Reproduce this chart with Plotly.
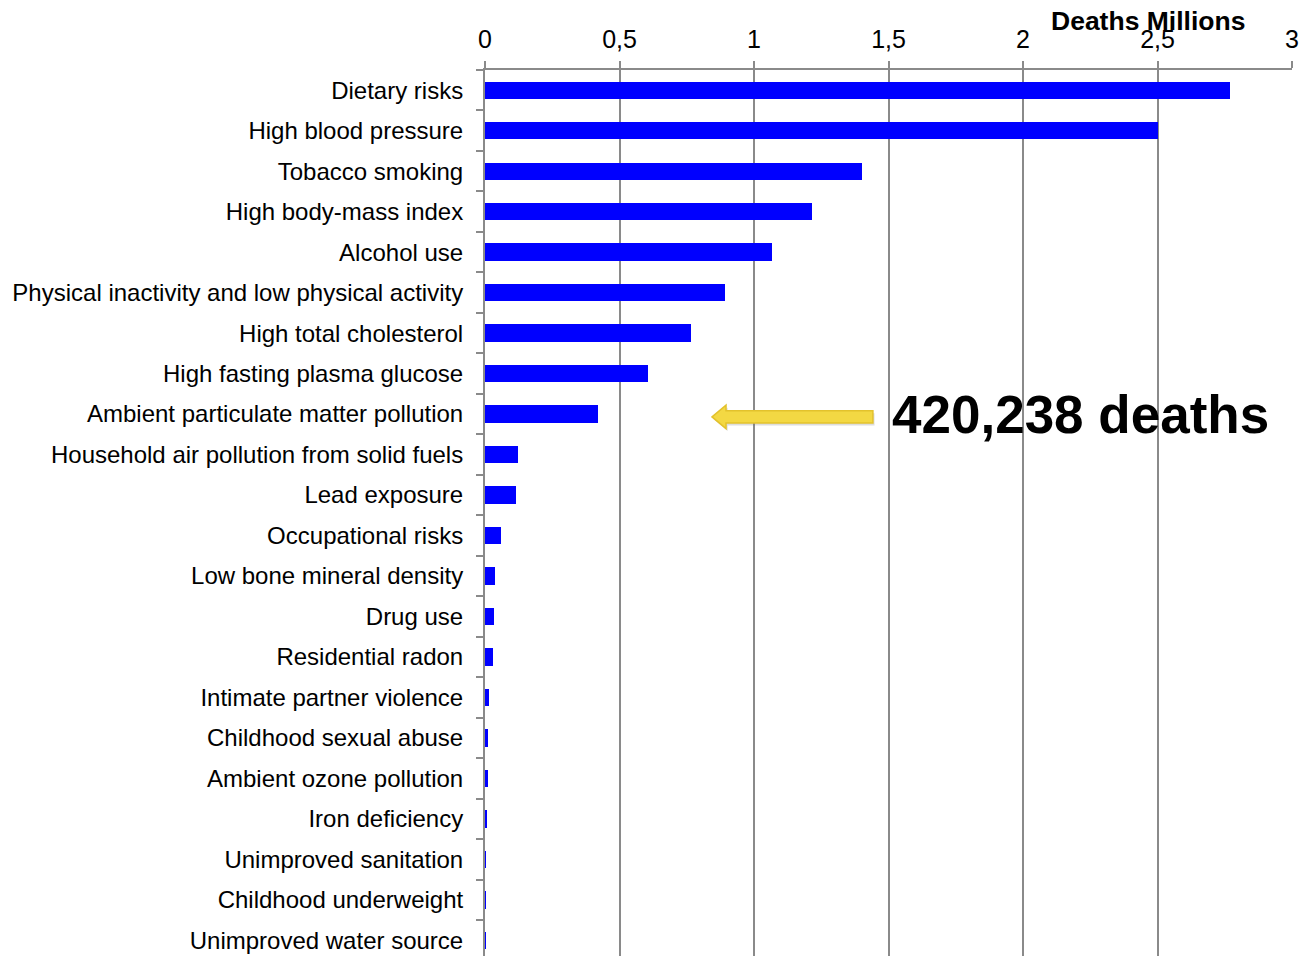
import plotly.graph_objects as go

# Risk factors, ordered from largest to smallest
risk_factors = [
    "Dietary risks",
    "High blood pressure",
    "Tobacco smoking",
    "High body-mass index",
    "Alcohol use",
    "Physical inactivity and low physical activity",
    "High total cholesterol",
    "High fasting plasma glucose",
    "Ambient particulate matter pollution",
    "Household air pollution from solid fuels",
    "Lead exposure",
    "Occupational risks",
    "Low bone mineral density",
    "Drug use",
    "Residential radon",
    "Intimate partner violence",
    "Childhood sexual abuse",
    "Ambient ozone pollution",
    "Iron deficiency",
    "Unimproved sanitation",
    "Childhood underweight",
    "Unimproved water source",
]

# Attributable deaths, millions
deaths_millions = [
    2.77, 2.50, 1.40, 1.216, 1.067, 0.892, 0.766, 0.606, 0.420238,
    0.123, 0.115, 0.059, 0.037, 0.033, 0.030, 0.015, 0.011, 0.011,
    0.004, 0.001, 0.001, 0.001,
]

x_ticks = [0, 0.5, 1, 1.5, 2, 2.5, 3]

highlight_label = "420,238 deaths"
highlight_index = risk_factors.index("Ambient particulate matter pollution")

GRID = "#8a8a8a"
FONT = "Liberation Sans, Arial, sans-serif"

fig = go.Figure(
    go.Bar(
        x=deaths_millions,
        y=risk_factors,
        orientation="h",
        width=0.43,
        marker=dict(color="#0000ff", line=dict(width=0)),
        hoverinfo="x+y",
    )
)

# Yellow call-out arrow pointing back at the highlighted bar
tip_x, head_x, tail_x = 0.844, 0.896, 1.442
yc = highlight_index + 0.07
head_h, shaft_h = 0.29, 0.15
dx, dy = 0.006, 0.06


def arrow(ox=0.0, oy=0.0):
    return (
        f"M {tip_x + ox},{yc + oy} L {head_x + ox},{yc - head_h + oy} L {head_x + ox},{yc - shaft_h + oy} "
        f"L {tail_x + ox},{yc - shaft_h + oy} L {tail_x + ox},{yc + shaft_h + oy} L {head_x + ox},{yc + shaft_h + oy} "
        f"L {head_x + ox},{yc + head_h + oy} Z"
    )


fig.add_shape(type="path", path=arrow(dx, dy), xref="x", yref="y",
              fillcolor="rgba(120,120,120,0.25)", line=dict(width=0), layer="above")
fig.add_shape(type="path", path=arrow(), xref="x", yref="y",
              fillcolor="#f3d843", line=dict(color="#e3c22c", width=1.5), layer="above")

fig.add_annotation(
    x=1.505, y=highlight_index, xref="x", yref="y",
    text=f"<b>{highlight_label}</b>", showarrow=False,
    xanchor="left", yanchor="middle",
    font=dict(family=FONT, size=53, color="#000000"),
)

W, H = 1305, 956
L, R, T, B = 485, 13, 70, 0

fig.add_annotation(
    x=(1148 - L) / (W - L - R), y=1 + (T - 21) / (H - T - B),
    xref="paper", yref="paper",
    xanchor="center", yanchor="middle",
    text="<b>Deaths Millions</b>", showarrow=False,
    font=dict(family=FONT, size=26.5, color="#000000"),
)

band = 40.48
y_bottom = -0.5 + (H - T - B) / band

fig.update_layout(
    width=W, height=H,
    margin=dict(l=L, r=R, t=T, b=B, pad=0),
    paper_bgcolor="white", plot_bgcolor="white",
    separators=", ",
    showlegend=False,
    font=dict(family=FONT, size=24, color="#000000"),
    bargap=0,
    xaxis=dict(
        side="top", range=[0, 3], tickvals=x_ticks,
        showgrid=True, gridcolor=GRID, gridwidth=2,
        showline=True, linecolor=GRID, linewidth=2,
        ticks="outside", ticklen=7, tickwidth=2, tickcolor=GRID,
        ticklabelstandoff=3,
        zeroline=False, fixedrange=True,
        tickfont=dict(family=FONT, size=25, color="#000000"),
    ),
    yaxis=dict(
        type="category", categoryorder="array", categoryarray=risk_factors,
        range=[y_bottom, -0.5], autorange=False,
        showgrid=False, zeroline=False,
        showline=True, linecolor=GRID, linewidth=2,
        ticks="outside", tickson="boundaries", ticklen=7, tickwidth=2, tickcolor=GRID,
        ticklabelstandoff=15,
        fixedrange=True,
        tickfont=dict(family=FONT, size=24, color="#000000"),
    ),
)

fig.write_html("out.html")
